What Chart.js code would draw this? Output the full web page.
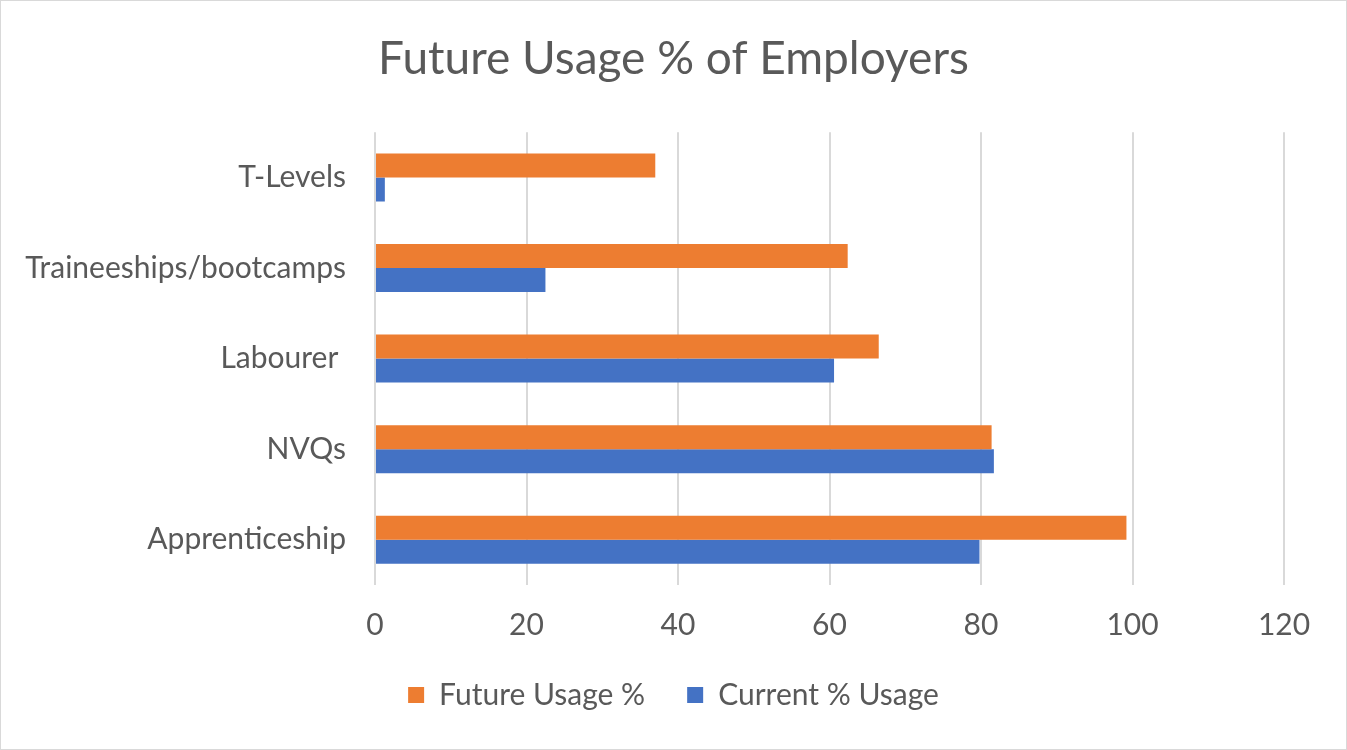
<!DOCTYPE html>
<html lang="en">
<head>
    <meta charset="UTF-8">
    <title>Future Usage % of Employers</title>
    <script src="https://cdn.jsdelivr.net/npm/chart.js"></script>
    <style>
        body {
            margin: 0;
            background-color: #ffffff;
        }
        .chart-container {
            width: 1347px;
            height: 750px;
            box-sizing: border-box;
            border: 1px solid #d9d9d9;
            position: relative;
        }
    </style>
</head>
<body>
    <div class="chart-container">
        <canvas id="usageChart"></canvas>
    </div>

    <script>
        const categories = ['T-Levels', 'Traineeships/bootcamps', 'Labourer ', 'NVQs', 'Apprenticeship'];
        const futureUsage = [37.0, 62.4, 66.5, 81.4, 99.2];
        const currentUsage = [1.3, 22.5, 60.6, 81.7, 79.8];

        const textColor = '#595959';
        const fontFamily = 'Lato, sans-serif';

        const ctx = document.getElementById('usageChart').getContext('2d');

        new Chart(ctx, {
            type: 'bar',
            data: {
                labels: categories,
                datasets: [{
                    label: 'Future Usage %',
                    data: futureUsage,
                    backgroundColor: '#ed7d31',
                    categoryPercentage: 0.53,
                    barPercentage: 1.0
                }, {
                    label: 'Current % Usage',
                    data: currentUsage,
                    backgroundColor: '#4472c4',
                    categoryPercentage: 0.53,
                    barPercentage: 1.0
                }]
            },
            options: {
                indexAxis: 'y',
                responsive: true,
                maintainAspectRatio: false,
                animation: false,
                layout: {
                    padding: { top: 0, bottom: 29, left: 0, right: 0 }
                },
                plugins: {
                    title: {
                        display: true,
                        text: 'Future Usage % of Employers',
                        color: textColor,
                        font: { family: fontFamily, size: 46, weight: 'normal' },
                        padding: { top: 31, bottom: 45 }
                    },
                    legend: {
                        position: 'bottom',
                        labels: {
                            color: textColor,
                            font: { family: fontFamily, size: 30 },
                            boxWidth: 16,
                            boxHeight: 16,
                            padding: 42
                        }
                    },
                    tooltip: { enabled: false }
                },
                scales: {
                    x: {
                        min: 0,
                        max: 120,
                        ticks: {
                            stepSize: 20,
                            color: textColor,
                            font: { family: fontFamily, size: 30 },
                            padding: 22
                        },
                        grid: {
                            color: '#d9d9d9',
                            lineWidth: 2,
                            drawTicks: false
                        },
                        border: { display: false },
                        afterFit: (axis) => { axis.height = 53; }
                    },
                    y: {
                        ticks: {
                            color: textColor,
                            font: { family: fontFamily, size: 30 },
                            padding: 29
                        },
                        grid: { display: false, drawTicks: false },
                        border: { display: false },
                        afterFit: (axis) => { axis.width = 374; }
                    },
                    // empty right-hand gutter so the title and legend centre on the full width
                    yRight: {
                        axis: 'y',
                        position: 'right',
                        ticks: { display: false },
                        grid: { display: false, drawTicks: false },
                        border: { display: false },
                        afterFit: (axis) => { axis.width = 62; }
                    }
                }
            }
        });
    </script>
</body>
</html>
